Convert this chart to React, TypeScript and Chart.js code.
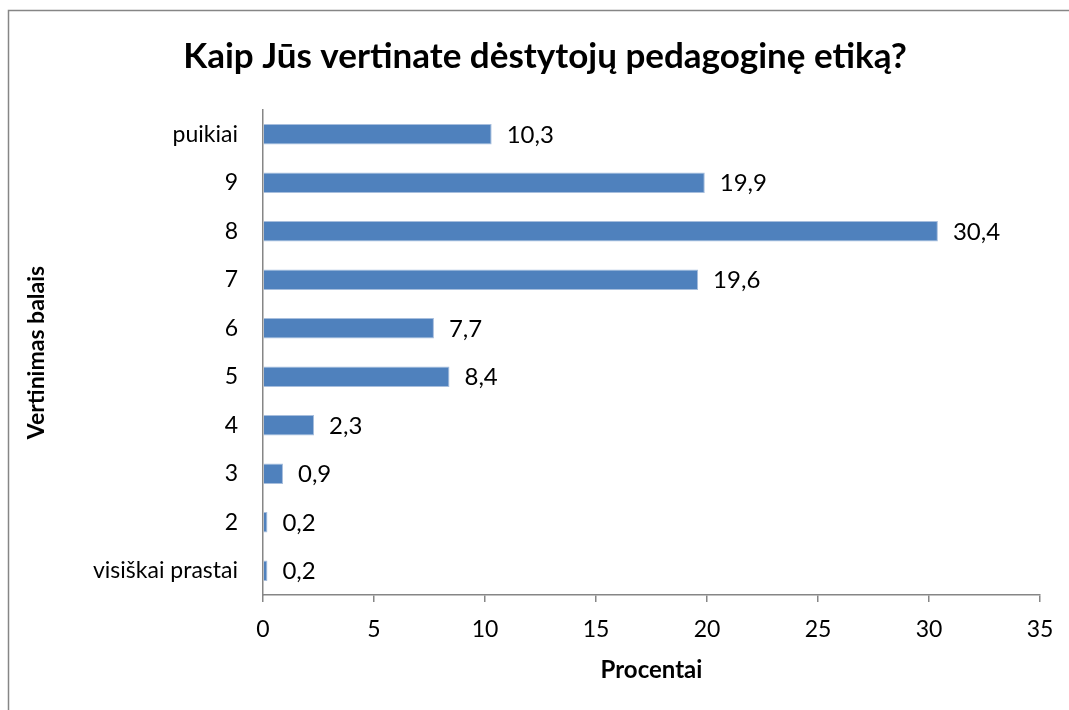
import React, { useEffect, useRef } from "react";
import { Chart, registerables } from "chart.js";

Chart.register(...registerables);

const titleText = "Kaip Jūs vertinate dėstytojų pedagoginę etiką?";
const categories = ["puikiai", "9", "8", "7", "6", "5", "4", "3", "2", "visiškai prastai"];
const values = [10.3, 19.9, 30.4, 19.6, 7.7, 8.4, 2.3, 0.9, 0.2, 0.2];
const xTitle = "Procentai";
const yTitle = "Vertinimas balais";
const xMin = 0;
const xMax = 35;
const xStep = 5;

const FONT = "Lato, 'Noto Sans', sans-serif";
const AXIS_COLOR = "#868686";

const framePlugin = {
  id: "frame",
  beforeDraw(chart: any) {
    const ctx = chart.ctx;
    ctx.save();
    ctx.fillStyle = "#ffffff";
    ctx.fillRect(0, 0, chart.width, chart.height);
    ctx.strokeStyle = AXIS_COLOR;
    ctx.lineWidth = 1.5;
    ctx.beginPath();
    ctx.moveTo(8.5, chart.height + 2);
    ctx.lineTo(8.5, 10.5);
    ctx.lineTo(chart.width + 2, 10.5);
    ctx.stroke();
    ctx.restore();
  },
};

const labelPlugin = {
  id: "barLabels",
  afterDatasetsDraw(chart: any) {
    const ctx = chart.ctx;
    const meta = chart.getDatasetMeta(0);
    const data = chart.data.datasets[0].data as number[];
    ctx.save();
    ctx.font = `24px ${FONT}`;
    ctx.fillStyle = "#000000";
    ctx.textAlign = "left";
    ctx.textBaseline = "middle";
    meta.data.forEach((bar: any, i: number) => {
      const txt = data[i].toFixed(1).replace(".", ",");
      ctx.fillText(txt, bar.x + 15, bar.y + 1);
    });
    ctx.restore();
  },
};

export default function App() {
  const ref = useRef<HTMLCanvasElement | null>(null);
  useEffect(() => {
    if (!ref.current) return;
    const chart = new Chart(ref.current, {
      type: "bar",
      data: {
        labels: categories,
        datasets: [
          {
            data: values,
            backgroundColor: "#4F81BD",
            borderColor: "#A7BEDD",
            borderWidth: 1,
            barPercentage: 0.42,
            categoryPercentage: 1,
          },
        ],
      },
      options: {
        indexAxis: "y",
        animation: false,
        responsive: false,
        devicePixelRatio: 1,
        layout: { padding: { left: 50, right: 29, top: 0, bottom: 0 } },
        plugins: {
          legend: { display: false },
          tooltip: { enabled: false },
          title: {
            display: true,
            text: titleText,
            color: "#000000",
            font: { family: FONT, size: 35, weight: "bold", lineHeight: 1.2 },
            padding: { top: 36, bottom: 32 },
          },
        },
        scales: {
          x: {
            type: "linear",
            min: xMin,
            max: xMax,
            ticks: {
              stepSize: xStep,
              color: "#000000",
              font: { family: FONT, size: 23 },
              padding: 14,
            },
            grid: {
              drawOnChartArea: false,
              drawTicks: true,
              tickLength: 7,
              color: AXIS_COLOR,
              lineWidth: 1.5,
            },
            border: { color: AXIS_COLOR, width: 1.5 },
            title: {
              display: true,
              text: xTitle,
              color: "#000000",
              font: { family: FONT, size: 24, weight: "bold", lineHeight: 1.2 },
              padding: { top: 0, bottom: 25.6 },
            },
            afterFit: (scale: any) => {
              scale.height = 115;
            },
          },
          y: {
            ticks: {
              color: "#000000",
              font: { family: FONT, size: 23 },
              padding: 25,
            },
            grid: { display: false, drawTicks: false },
            border: { color: AXIS_COLOR, width: 1.5 },
            title: {
              display: true,
              text: yTitle,
              color: "#000000",
              font: { family: FONT, size: 23, weight: "bold", lineHeight: 1.2 },
              padding: { top: -26.8, bottom: 0 },
            },
            afterFit: (scale: any) => {
              scale.width = 213;
            },
          },
        },
      } as any,
      plugins: [framePlugin, labelPlugin],
    });
    return () => chart.destroy();
  }, []);
  return (
    <div style={{ position: "fixed", left: 0, top: 0, width: 1069, height: 710, background: "#fff" }}>
      <canvas ref={ref} width={1069} height={710} style={{ display: "block" }} />
    </div>
  );
}
